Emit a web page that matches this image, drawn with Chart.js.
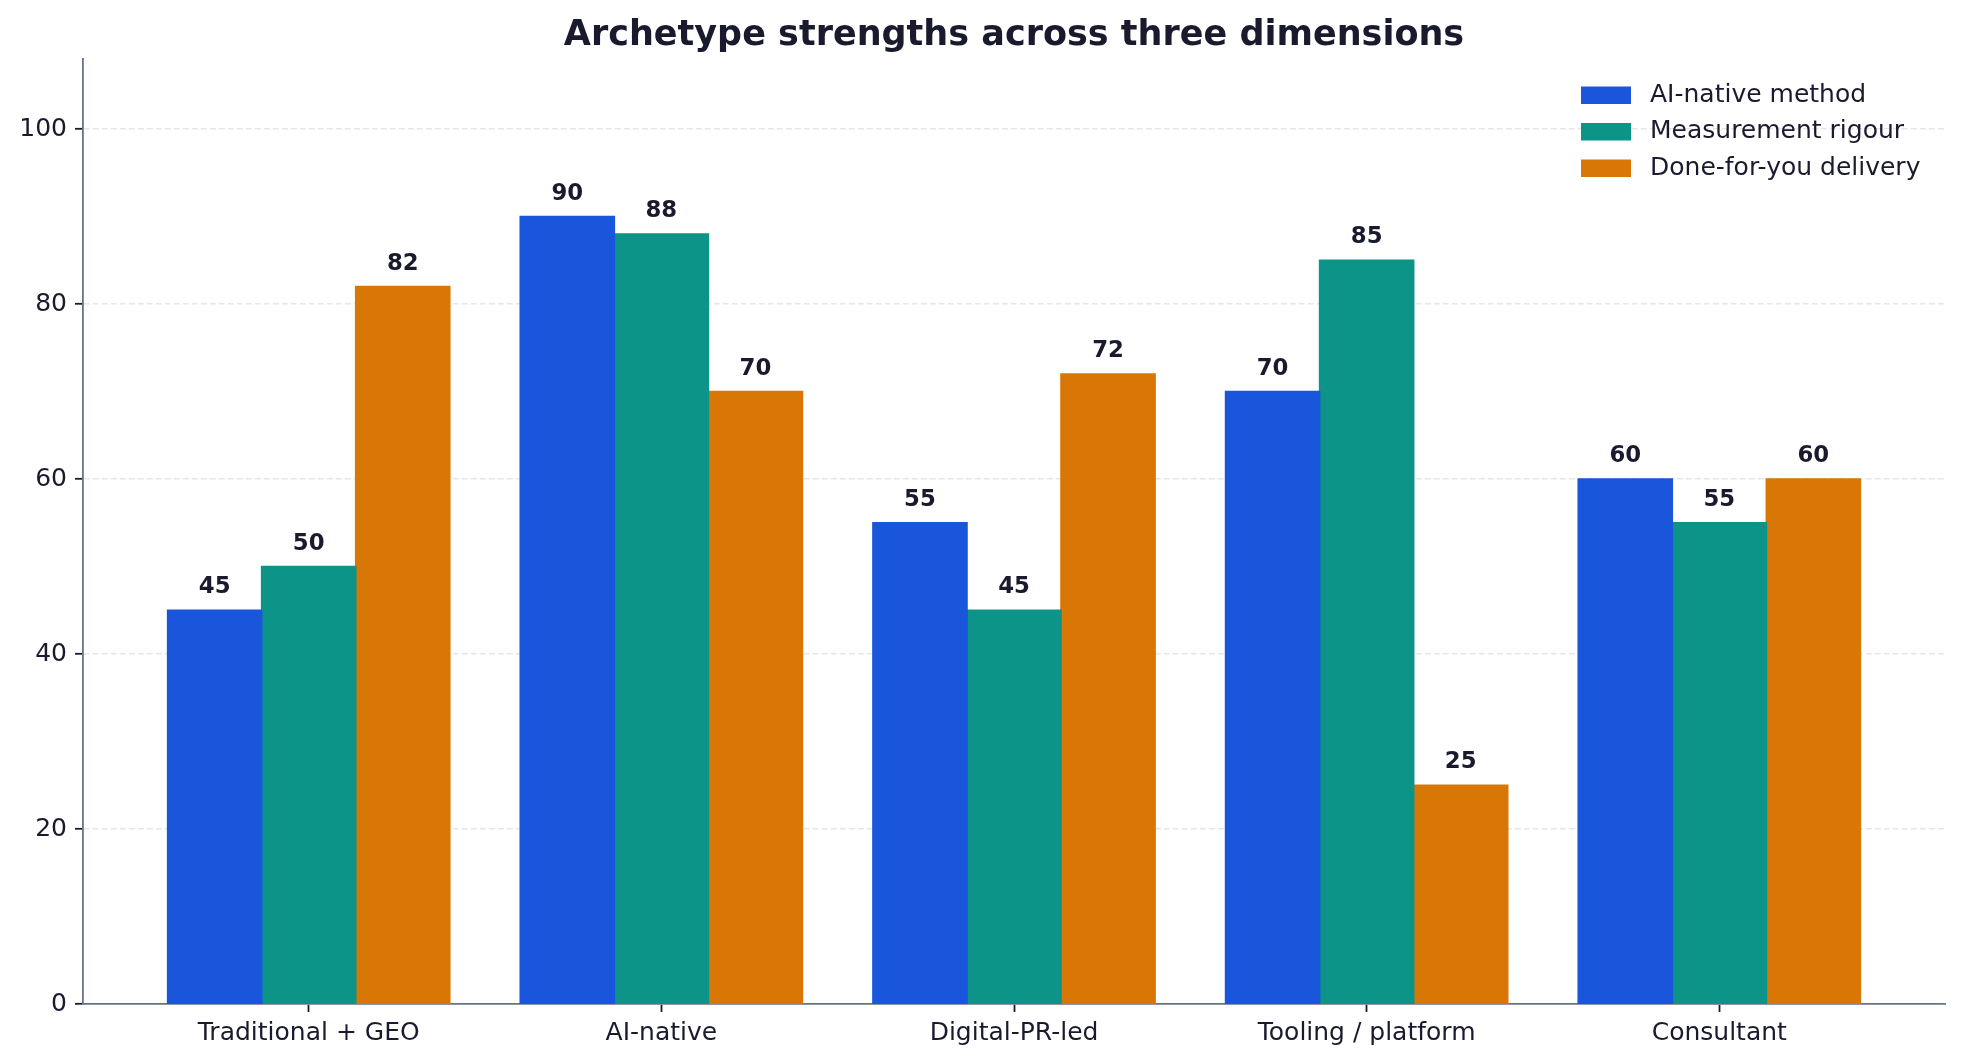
<!DOCTYPE html>
<html>
<head>
<meta charset="utf-8">
<script src="https://cdn.jsdelivr.net/npm/chart.js@4/dist/chart.umd.min.js"></script>
<style>
  body { margin: 0; background: #fff; }
  canvas { display: block; }
</style>
</head>
<body>
<canvas id="myChart" width="1961" height="1062"></canvas>
<script>
// data
let categories = ['Traditional + GEO', 'AI-native', 'Digital-PR-led', 'Tooling / platform', 'Consultant']
let aiNative = [45, 90, 55, 70, 60]
let measurement = [50, 88, 45, 85, 55]
let doneForYou = [82, 70, 72, 25, 60]
let seriesNames = ['AI-native method', 'Measurement rigour', 'Done-for-you delivery']
let seriesColors = ['#1a56db', '#0d9488', '#d97706']
let yTicks = [0, 20, 40, 60, 80, 100]
let chartTitle = 'Archetype strengths across three dimensions'

let textColor = '#1a1a2e',
    spineColor = '#64748b',
    fontFamily = "'DejaVu Sans', sans-serif"

function toPoints(values) {
    return values.map(function (v, i) { return { x: i, y: v } })
}

// title over the plot area, value labels above bars, legend top right
let extras = {
    id: 'extras',
    afterDatasetsDraw: function (chart) {
        let ctx = chart.ctx
        ctx.save()
        ctx.fillStyle = textColor
        ctx.font = 'bold 22.8px ' + fontFamily
        ctx.textAlign = 'center'
        ctx.textBaseline = 'alphabetic'
        chart.data.datasets.forEach(function (ds, d) {
            chart.getDatasetMeta(d).data.forEach(function (bar, i) {
                ctx.fillText(ds.data[i].y, bar.x, bar.y - 17)
            })
        })
        ctx.restore()
    },
    afterDraw: function (chart) {
        let ctx = chart.ctx,
            area = chart.chartArea
        ctx.save()
        // title
        ctx.fillStyle = textColor
        ctx.font = 'bold 35px ' + fontFamily
        ctx.textAlign = 'center'
        ctx.textBaseline = 'alphabetic'
        ctx.fillText(chartTitle, (area.left + area.right) / 2, 44.5)
        // legend
        ctx.font = '25px ' + fontFamily
        ctx.textBaseline = 'middle'
        ctx.textAlign = 'left'
        let x0 = area.right - 364
        chart.data.datasets.forEach(function (ds, d) {
            let y = area.top + 36 + d * 36.5
            ctx.fillStyle = ds.backgroundColor
            ctx.fillRect(x0, y - 8.5, 50, 17.5)
            ctx.fillStyle = textColor
            ctx.fillText(ds.label, x0 + 69, y)
        })
        ctx.restore()
    }
}

let ctx = document.getElementById('myChart').getContext('2d')
let myChart = new Chart(ctx, {
    type: 'bar',
    data: {
        datasets: [
            { label: seriesNames[0], data: toPoints(aiNative), backgroundColor: seriesColors[0] },
            { label: seriesNames[1], data: toPoints(measurement), backgroundColor: seriesColors[1] },
            { label: seriesNames[2], data: toPoints(doneForYou), backgroundColor: seriesColors[2] }
        ]
    },
    options: {
        responsive: false,
        animation: false,
        devicePixelRatio: 1,
        categoryPercentage: 0.8,
        barPercentage: 1.0,
        datasets: { bar: { borderWidth: 0, inflateAmount: 0.8 } },
        layout: { padding: { left: 0, right: 16, top: 59, bottom: 0 } },
        plugins: {
            legend: { display: false },
            tooltip: { enabled: false },
            title: { display: false }
        },
        scales: {
            x: {
                type: 'linear',
                min: -0.64,
                max: 4.64,
                offset: false,
                afterBuildTicks: function (axis) {
                    axis.ticks = categories.map(function (c, i) { return { value: i } })
                },
                afterFit: function (axis) { axis.height = 58 },
                ticks: {
                    color: textColor,
                    font: { family: fontFamily, size: 25 },
                    padding: 6,
                    maxRotation: 0,
                    autoSkip: false,
                    callback: function (v) { return categories[v] }
                },
                grid: {
                    offset: false,
                    drawOnChartArea: false,
                    drawTicks: true,
                    tickLength: 8,
                    tickColor: textColor,
                    tickWidth: 1.8
                },
                border: { color: spineColor, width: 1.8 }
            },
            y: {
                min: 0,
                max: 108,
                z: 1,
                afterBuildTicks: function (axis) {
                    axis.ticks = yTicks.map(function (v) { return { value: v } })
                },
                afterFit: function (axis) { axis.width = 83 },
                ticks: {
                    color: textColor,
                    font: { family: fontFamily, size: 25 },
                    padding: 8
                },
                grid: {
                    color: function (c) { return c.tick && c.tick.value === 0 ? 'rgba(0,0,0,0)' : 'rgba(200,200,200,0.45)' },
                    lineWidth: 1.6,
                    drawTicks: true,
                    tickLength: 8,
                    tickColor: textColor,
                    tickWidth: 1.8,
                    tickBorderDash: []
                },
                border: { color: spineColor, width: 1.8, dash: [6, 3] }
            }
        }
    },
    plugins: [extras]
})
</script>
</body>
</html>
